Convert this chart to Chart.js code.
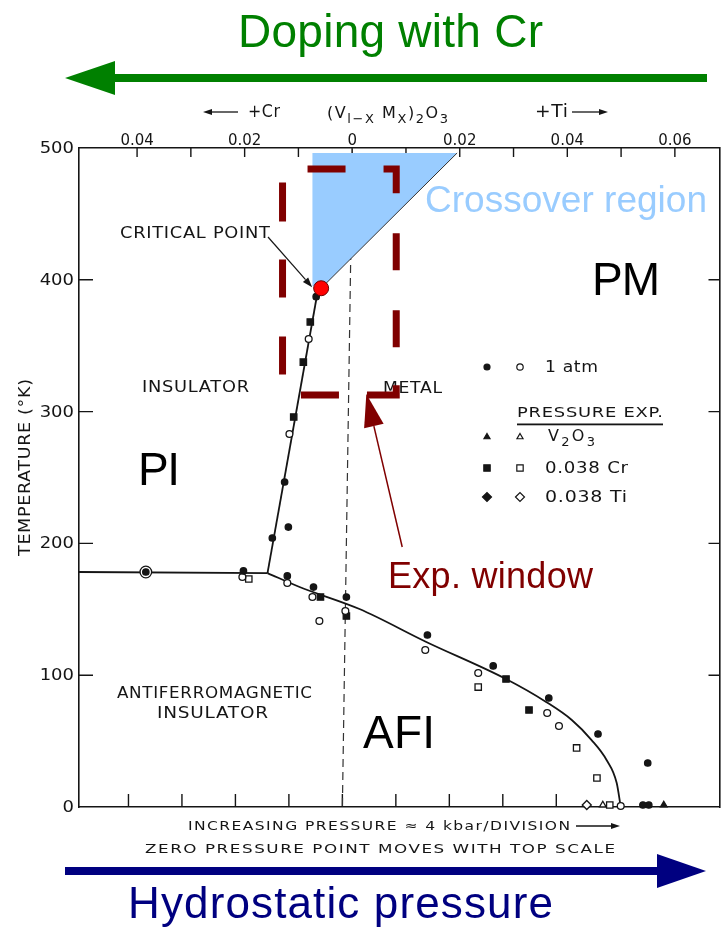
<!DOCTYPE html>
<html>
<head>
<meta charset="utf-8">
<script src="https://cdn.jsdelivr.net/npm/chart.js@4.4.1/dist/chart.umd.min.js"></script>
<style>
  html, body { margin: 0; padding: 0; background: #fff; }
  canvas { display: block; background: #fff; }
</style>
</head>
<body>
<canvas id="phase" width="728" height="933"></canvas>
<script>
// ---- axes -------------------------------------------------------------
const tempTicks = [0, 100, 200, 300, 400, 500];                 // K
const pressureTicks = [-4, -3, -2, -1, 0, 1, 2, 3, 4];           // ~4 kbar per division
const dopingTicks = [-0.04, -0.03, -0.02, -0.01, 0, 0.01, 0.02, 0.03, 0.04, 0.05, 0.06];
const dopingLabels = ['0.04', '', '0.02', '', '0', '', '0.02', '', '0.04', '', '0.06'];

// ---- phase boundaries  [pressure division, T (K)] ---------------------
const afiPlateau = [[-4.93, 178.3], [-1.40, 177.5]];
const miBoundary = [[-1.40, 177.5], [-0.46, 391.5]];
const afiBoundary = [[-1.40, 177.5], [-0.80, 166.9], [0.32, 150.2], [1.57, 125.2], [3.06, 97.1],
                     [3.81, 79.7], [4.29, 66.0], [4.66, 50.8], [4.94, 35.7], [5.13, 18.2], [5.205, 0]];
const zeroComposition = [[0.187, 500], [0, 0]];

// ---- measured transitions ----------------------------------------------
const filledCircles = [[-0.49, 387.2], [-1.08, 246.6], [-1.01, 212.4], [-1.31, 204.1], [-3.675, 178.3],
                       [-1.85, 179.1], [-1.03, 175.3], [-0.54, 166.9], [0.075, 159.3], [1.59, 130.5],
                       [2.82, 107.0], [3.86, 82.7], [4.78, 55.4], [5.71, 33.4], [5.62, 1.5], [5.73, 1.5]];
const openCircles = [[-0.63, 355.1], [-0.99, 283.0], [-1.87, 174.5], [-1.03, 170.0], [-0.56, 159.3],
                     [-0.43, 141.1], [0.056, 148.7], [1.55, 119.1], [2.54, 101.7], [3.83, 71.3],
                     [4.05, 61.5], [5.205, 0.8]];
const filledSquares = [[-0.60, 368.0], [-0.73, 337.6], [-0.91, 295.9], [-0.41, 159.3], [0.075, 144.9],
                       [3.06, 97.1], [3.49, 73.6]];
const openSquares = [[-1.75, 173.0], [2.54, 91.0], [4.38, 44.8], [4.76, 22.0], [5.0, 1.5]];
const openDiamonds = [[4.57, 1.5]];
const openTriangles = [[4.87, 1.5]];
const filledTriangles = [[6.01, 1.5]];
const ringedPoints = [[-3.675, 178.3]];

// ---- highlighted regions -----------------------------------------------
const criticalPoint = [[-0.397, 393.6]];
const crossoverRegion = [[-0.56, 496.2], [2.146, 496.2], [-0.397, 393.6], [-0.56, 395.3], [-0.56, 496.2]];
const crossoverEdge = [[2.146, 496.2], [-0.397, 393.6]];
const expWindow = [[-1.119, 484.1], [1.007, 484.1], [1.007, 312.6], [-1.119, 312.6], [-1.119, 484.1]];
const expArrow = [[1.119, 197.3], [0.448, 313.4]];

const INK = '#151515';
const LETTER = '"DejaVu Sans", sans-serif';
const SANS = '"Liberation Sans", Arial, sans-serif';

const pts = a => a.map(([x, y]) => ({ x, y }));

function markers(data, style, radius, filled, order) {
  return {
    type: 'line', data: pts(data), showLine: false, order, clip: false,
    pointStyle: style, pointRadius: radius, pointBorderWidth: 1.3,
    pointBackgroundColor: filled ? INK : '#fff', pointBorderColor: INK
  };
}
function curve(data, extra) {
  return Object.assign({
    type: 'line', data: pts(data), pointRadius: 0, borderColor: INK, borderWidth: 1.8,
    tension: 0, fill: false, clip: false
  }, extra);
}

// ---- text helpers ----------------------------------------------------------
// letter-spaced text fitted to a width (slide annotations)
function fit(ctx, str, left, base, width, font, color) {
  ctx.font = font; ctx.fillStyle = color;
  ctx.textAlign = 'left'; ctx.textBaseline = 'alphabetic';
  ctx.letterSpacing = '0px';
  const w = ctx.measureText(str).width;
  const n = Array.from(str).length;
  const ls = n > 1 ? (width - w) / (n - 1) : 0;
  ctx.letterSpacing = ls.toFixed(2) + 'px';
  ctx.fillText(str, left, base);
  ctx.letterSpacing = '0px';
}
// wide stencil-style lettering: glyphs stretched horizontally to a width
function wide(ctx, str, left, base, width, font, color, ls) {
  ls = ls === undefined ? 0.6 : ls;
  ctx.font = font; ctx.fillStyle = color;
  ctx.textAlign = 'left'; ctx.textBaseline = 'alphabetic';
  ctx.letterSpacing = '0px';
  const n = Array.from(str).length;
  const nat = ctx.measureText(str).width + ls * (n - 1);
  ctx.save();
  ctx.translate(left, base); ctx.scale(width / nat, 1);
  ctx.letterSpacing = ls + 'px';
  ctx.fillText(str, 0, 0);
  ctx.restore();
  ctx.letterSpacing = '0px';
}
function wideAt(ctx, str, x, base, sx, font, color, align) {
  ctx.font = font; ctx.letterSpacing = '0px';
  const w = ctx.measureText(str).width * sx;
  const left = align === 'right' ? x - w : align === 'center' ? x - w / 2 : x;
  wide(ctx, str, left, base, w, font, color, 0);
}
// text with subscripts: parts = [[string, isSubscript], ...]
function rich(ctx, parts, left, base, width, mainFont, subFont, subDrop, color) {
  ctx.fillStyle = color; ctx.textAlign = 'left'; ctx.textBaseline = 'alphabetic';
  ctx.letterSpacing = '0px';
  let nat = 0, n = 0;
  parts.forEach(([s, sub]) => {
    ctx.font = sub ? subFont : mainFont;
    for (const ch of s) { nat += ctx.measureText(ch).width; n++; }
  });
  const ls = n > 1 ? (width - nat) / (n - 1) : 0;
  let x = left;
  parts.forEach(([s, sub]) => {
    ctx.font = sub ? subFont : mainFont;
    for (const ch of s) {
      ctx.fillText(ch, x, base + (sub ? subDrop : 0));
      x += ctx.measureText(ch).width + ls;
    }
  });
}
function arrowLine(ctx, x1, y1, x2, y2, width, headLen, headHalf, color) {
  const ang = Math.atan2(y2 - y1, x2 - x1);
  const bx = x2 - Math.cos(ang) * headLen, by = y2 - Math.sin(ang) * headLen;
  ctx.save();
  ctx.strokeStyle = color; ctx.fillStyle = color; ctx.lineWidth = width; ctx.lineCap = 'butt';
  ctx.beginPath(); ctx.moveTo(x1, y1); ctx.lineTo(bx, by); ctx.stroke();
  ctx.beginPath();
  ctx.moveTo(x2, y2);
  ctx.lineTo(bx + Math.sin(ang) * headHalf, by - Math.cos(ang) * headHalf);
  ctx.lineTo(bx - Math.sin(ang) * headHalf, by + Math.cos(ang) * headHalf);
  ctx.closePath(); ctx.fill();
  ctx.restore();
}
function legendMark(ctx, style, radius, filled, x, y) {
  ctx.save();
  ctx.fillStyle = filled ? INK : '#fff'; ctx.strokeStyle = INK; ctx.lineWidth = 1.2;
  Chart.helpers.drawPoint(ctx, { pointStyle: style, radius, borderWidth: 1.2, rotation: 0 }, x, y);
  ctx.restore();
}

// ---- the lettering and tick marks of the diagram -------------------------------
const figurePlugin = {
  id: 'figure',
  beforeDatasetsDraw(chart) {
    const { ctx, chartArea: a, scales } = chart;
    ctx.save();
    ctx.strokeStyle = INK; ctx.lineWidth = 1.4;
    ctx.beginPath();
    pressureTicks.forEach(v => {
      const x = scales.x.getPixelForValue(v);
      ctx.moveTo(x, a.bottom); ctx.lineTo(x, a.bottom - 13);
    });
    dopingTicks.forEach(v => {
      const x = scales.x2.getPixelForValue(v);
      ctx.moveTo(x, a.top); ctx.lineTo(x, a.top + 9);
    });
    tempTicks.slice(1, -1).forEach(v => {
      const y = scales.y.getPixelForValue(v);
      ctx.moveTo(a.left, y); ctx.lineTo(a.left + 14, y);
      const y2 = scales.y2.getPixelForValue(v);
      ctx.moveTo(a.right, y2); ctx.lineTo(a.right - 11, y2);
    });
    ctx.stroke();

    // tick labels
    tempTicks.forEach(v => {
      const y = scales.y.getPixelForValue(v);
      wideAt(ctx, String(v), a.left - 5, y + 5, 1.2, '15px ' + LETTER, INK, 'right');
    });
    dopingTicks.forEach((v, i) => {
      if (!dopingLabels[i]) return;
      const x = scales.x2.getPixelForValue(v);
      wideAt(ctx, dopingLabels[i], x, a.top - 3, 1.0, '15px ' + LETTER, INK, 'center');
    });

    // composition header above the top scale
    wide(ctx, '+Cr', 248, 117, 32, '17px ' + LETTER, INK);
    arrowLine(ctx, 238, 112, 203, 112, 1.3, 9, 3, INK);
    rich(ctx, [['(V', false], ['l\u2212X', true], [' M', false], ['X', true], [')', false], ['2', true], ['O', false], ['3', true]],
         327, 118, 121, '16px ' + LETTER, '13px ' + LETTER, 5, INK);
    wide(ctx, '+Ti', 535, 117, 33, '17px ' + LETTER, INK);
    arrowLine(ctx, 572, 112, 608, 112, 1.3, 9, 3, INK);

    // axis titles
    ctx.save();
    ctx.translate(24, 468); ctx.rotate(-Math.PI / 2);
    wide(ctx, 'TEMPERATURE (\u00B0K)', -88, 6, 177, '16px ' + LETTER, INK);
    ctx.restore();
    wide(ctx, 'INCREASING PRESSURE \u2248 4 kbar/DIVISION', 188, 830, 382, '13px ' + LETTER, INK, 1.2);
    arrowLine(ctx, 576, 826, 620, 826, 1.3, 9, 3, INK);
    wide(ctx, 'ZERO PRESSURE POINT MOVES WITH TOP SCALE', 145, 853, 470, '13px ' + LETTER, INK, 1.2);

    // region names
    wide(ctx, 'CRITICAL POINT', 120, 238, 150, '15px ' + LETTER, INK);
    wide(ctx, 'INSULATOR', 142, 392, 107, '15px ' + LETTER, INK);
    wide(ctx, 'METAL', 383, 393, 59, '15px ' + LETTER, INK);
    wide(ctx, 'ANTIFERROMAGNETIC', 117, 698, 195, '15px ' + LETTER, INK);
    wide(ctx, 'INSULATOR', 157, 718, 111, '15px ' + LETTER, INK);

    // pointer to the critical point
    const cx = scales.x.getPixelForValue(criticalPoint[0][0]);
    const cy = scales.y.getPixelForValue(criticalPoint[0][1]);
    arrowLine(ctx, 268, 237, cx - 9, cy - 1, 1.2, 10, 3.5, INK);

    // key
    const colF = 487, colO = 520;
    legendMark(ctx, 'circle', 3, true, colF, 367);
    legendMark(ctx, 'circle', 3.2, false, colO, 367);
    wide(ctx, '1 atm', 545, 372, 53, '16px ' + LETTER, INK);
    wide(ctx, 'PRESSURE EXP.', 517, 417, 146, '14px ' + LETTER, INK);
    ctx.fillStyle = INK; ctx.fillRect(517, 423.5, 146, 1.8);
    legendMark(ctx, 'triangle', 3.5, true, colF, 437);
    legendMark(ctx, 'triangle', 3.5, false, colO, 437);
    rich(ctx, [['V', false], ['2', true], ['O', false], ['3', true]], 548, 441, 47, '16px ' + LETTER, '13px ' + LETTER, 5, INK);
    legendMark(ctx, 'rect', 4.5, true, colF, 468);
    legendMark(ctx, 'rect', 4.5, false, colO, 468);
    wide(ctx, '0.038 Cr', 545, 473, 83, '15px ' + LETTER, INK);
    legendMark(ctx, 'rectRot', 4.5, true, colF, 497);
    legendMark(ctx, 'rectRot', 4.5, false, colO, 497);
    wide(ctx, '0.038 Ti', 545, 502, 82, '15px ' + LETTER, INK);
    ctx.restore();
  },
  afterDraw(chart) {
    const { ctx, scales } = chart;
    ctx.save();
    // doping and pressure directions
    arrowLine(ctx, 707, 78, 65, 78, 8, 50, 17, '#008000');
    fit(ctx, 'Doping with Cr', 238, 47, 305, '46px ' + SANS, '#008000');
    arrowLine(ctx, 65, 871, 706, 871, 8, 49, 17, '#000080');
    fit(ctx, 'Hydrostatic pressure', 128, 918, 425, '44px ' + SANS, '#000080');

    // phase names
    fit(ctx, 'Crossover region', 425, 212, 282, '37px ' + SANS, '#99ccff');
    fit(ctx, 'PM', 592, 295, 68, '46px ' + SANS, '#000');
    fit(ctx, 'PI', 138, 485, 42, '46px ' + SANS, '#000');
    fit(ctx, 'AFI', 363, 748, 72, '46px ' + SANS, '#000');

    // experimental window pointer
    const tx = scales.x.getPixelForValue(expArrow[0][0]), ty = scales.y.getPixelForValue(expArrow[0][1]);
    const hx = scales.x.getPixelForValue(expArrow[1][0]), hy = scales.y.getPixelForValue(expArrow[1][1]);
    arrowLine(ctx, tx, ty, hx, hy, 1.5, 33, 10, '#800000');
    fit(ctx, 'Exp. window', 388, 588, 205, '36px ' + SANS, '#800000');
    ctx.restore();
  }
};

const flatAxis = {
  type: 'linear',
  grid: { display: false, drawTicks: false },
  ticks: { display: false },
  border: { display: true, color: INK, width: 1.6 }
};

new Chart(document.getElementById('phase'), {
  type: 'line',
  data: {
    datasets: [
      Object.assign(markers(criticalPoint, 'circle', 7.5, true, 0),
                    { pointBackgroundColor: '#ff0000', pointBorderColor: '#6a0000', pointBorderWidth: 1 }),
      curve(expWindow, { borderColor: '#800000', borderWidth: 7,
                         borderDash: [0, 25, 38, 38, 37, 40, 37, 40, 37, 38, 39, 28, 38, 39, 38, 39, 38, 38, 39, 200],
                         borderCapStyle: 'butt', borderJoinStyle: 'miter', order: 1 }),
      curve(crossoverEdge, { borderWidth: 1, borderColor: '#333', order: 2 }),
      curve(crossoverRegion, { fill: 'shape', backgroundColor: '#99ccff', borderColor: 'rgba(0,0,0,0)',
                               borderWidth: 0.01, order: 3 }),
      markers(filledCircles, 'circle', 3.2, true, 4),
      markers(openCircles, 'circle', 3.4, false, 4),
      markers(filledSquares, 'rect', 4.5, true, 4),
      markers(openSquares, 'rect', 4.5, false, 4),
      markers(openDiamonds, 'rectRot', 4.5, false, 4),
      markers(openTriangles, 'triangle', 3.8, false, 4),
      markers(filledTriangles, 'triangle', 3.8, true, 4),
      markers(ringedPoints, 'circle', 5.8, false, 5),
      curve(afiPlateau, { order: 6 }),
      curve(miBoundary, { order: 6 }),
      curve(afiBoundary, { cubicInterpolationMode: 'monotone', order: 6 }),
      curve(zeroComposition, { borderWidth: 1.2, borderColor: '#333', borderDash: [8, 5], order: 7 })
    ]
  },
  options: {
    responsive: false,
    animation: false,
    events: [],
    layout: { padding: { left: 79, right: 7, top: 148, bottom: 126 } },
    plugins: { legend: { display: false }, tooltip: { enabled: false } },
    scales: {
      x: Object.assign({}, flatAxis, { position: 'bottom', min: -4.925, max: 7.052 }),
      x2: Object.assign({}, flatAxis, { position: 'top', min: -0.0508, max: 0.0683 }),
      y: Object.assign({}, flatAxis, { position: 'left', min: 0, max: 500 }),
      y2: Object.assign({}, flatAxis, { position: 'right', min: 0, max: 500 })
    }
  },
  plugins: [figurePlugin]
});
</script>
</body>
</html>
